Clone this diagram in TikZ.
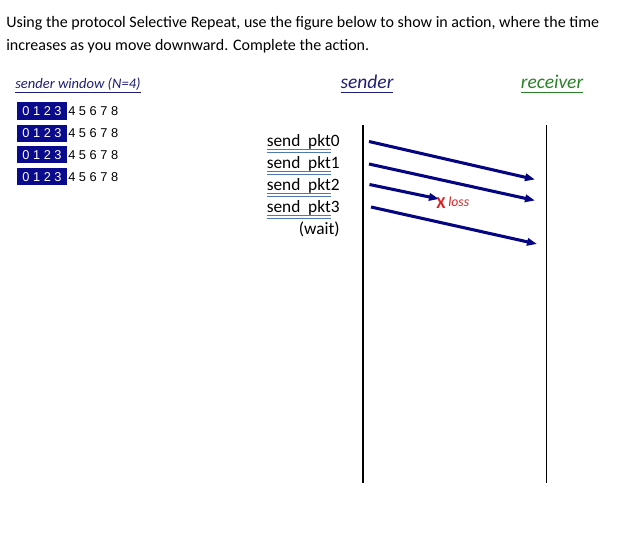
\documentclass[tikz,border=0pt]{standalone}
\usepackage{fontspec}
\setmainfont{Carlito}
\newfontfamily\digitfont{Liberation Sans}
\usetikzlibrary{positioning,arrows.meta}

\definecolor{boxnavy}{RGB}{10,10,140}
\definecolor{arrnavy}{RGB}{5,5,130}
\definecolor{txtnavy}{RGB}{30,30,120}
\definecolor{rcvgreen}{RGB}{40,130,40}
\definecolor{ulblue}{RGB}{80,120,180}
\definecolor{lossred}{RGB}{225,30,30}

\newsavebox\ulbox
% underline, same colour as the text
\newcommand\sul[1]{\sbox\ulbox{#1}\rlap{\rule[-2.7pt]{\wd\ulbox}{0.6pt}}\usebox\ulbox}
% double blue underline
\newcommand\dblul[1]{\sbox\ulbox{#1}%
  \rlap{\textcolor{ulblue}{\rule[-2.2pt]{\wd\ulbox}{0.4pt}}}%
  \rlap{\textcolor{ulblue}{\rule[-3.9pt]{\wd\ulbox}{0.4pt}}}\usebox\ulbox}

\begin{document}
\begin{tikzpicture}[x=0.75pt,y=-0.75pt,>={Triangle[length=7.5pt,width=5.5pt]},
    winbox/.style={fill=boxnavy,text=white,inner sep=0pt,minimum width=37.5pt,minimum height=12.8pt,font=\digitfont\fontsize{9.6}{11}\selectfont},
    winrest/.style={inner xsep=0.6pt,inner ysep=0pt,font=\digitfont\fontsize{9.6}{11}\selectfont},
    sendlbl/.style={anchor=base east,inner sep=0pt,font=\fontsize{13}{15}\selectfont},
    pkt/.style={->,draw=arrnavy,line width=2.3pt}]
   \useasboundingbox (0,0) rectangle (621,541);

   % 問題文
   \node[anchor=base west,inner sep=0pt,font=\fontsize{12}{14}\selectfont] (title1) at (6,28)
     {Using the protocol Selective Repeat, use the figure below to show in action, where the time};
   \node[anchor=base west,inner sep=0pt,font=\fontsize{12}{14}\selectfont] (title2) at (6,51)
     {increases as you move downward. Complete the action.};

   % 送信ウィンドウ
   \node[anchor=base west,inner sep=0pt,text=txtnavy,font=\itshape\fontsize{10.9}{12}\selectfont] (winlbl) at (15,89)
     {\sul{sender window (N=4)}};
   \foreach \i/\y in {0/111,1/133.2,2/154.8,3/176.6}{
     \node[winbox] (box\i) at (42,\y) {0 1 2 3};
     \node[winrest,anchor=base west] (rest\i) at (box\i.base east) {4 5 6 7 8};
   }

   % 見出し
   \node[text=txtnavy,inner sep=0pt,font=\itshape\fontsize{14.6}{16}\selectfont] (sndr) at (367,84) {\sul{sender}};
   \node[text=rcvgreen,inner sep=0pt,font=\itshape\fontsize{14.6}{16}\selectfont] (rcvr) at (552,84) {\sul{receiver}};

   % 時間軸
   \coordinate (sTop) at (363,125);
   \coordinate (sBot) at (363,483);
   \coordinate (rTop) at (546.5,125);
   \coordinate (rBot) at (546.5,483);
   \draw[line width=0.8pt] (sTop) -- (sBot);
   \draw[line width=0.8pt] (rTop) -- (rBot);

   % 送信ラベル
   \foreach \i/\y in {0/147,1/169,2/191,3/213}{
     \node[sendlbl] (snd\i) at (340,\y) {\dblul{send\hspace{0.45em}pkt}\i};
   }
   \node[sendlbl] (wait) at (340,235) {(wait)};

   % パケット
   \coordinate (s0) at (369,141.5);
   \coordinate (r0) at (535,179.5);
   \coordinate (s1) at (369,164);
   \coordinate (r1) at (535,200.5);
   \coordinate (s2) at (369.5,184.5);
   \coordinate (l2) at (439,199);
   \coordinate (s3) at (371,207);
   \coordinate (r3) at (537,244);
   \draw[pkt] (s0) -- (r0);
   \draw[pkt] (s1) -- (r1);
   \draw[pkt] (s2) -- (l2);
   \draw[pkt] (s3) -- (r3);

   \node[inner sep=0pt,text=lossred,font=\bfseries\fontsize{12.5}{14}\selectfont] (lossx) at (441,203.5) {X};
   \node[anchor=base west,inner sep=0pt,text=lossred,font=\itshape\fontsize{10.3}{12}\selectfont] (loss) at (448,207) {loss};
\end{tikzpicture}
\end{document}
